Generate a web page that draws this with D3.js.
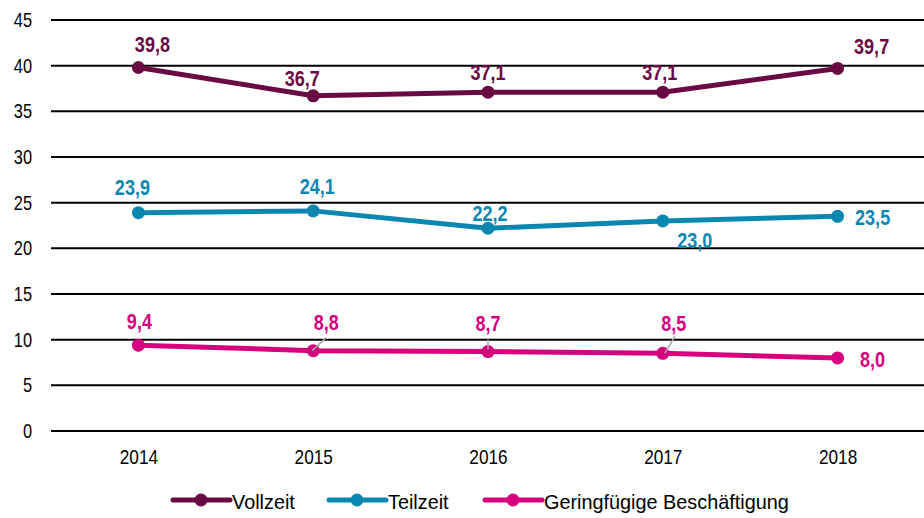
<!DOCTYPE html>
<html><head><meta charset="utf-8">
<script src="https://cdn.jsdelivr.net/npm/d3@7"></script>
<style>
html,body{margin:0;padding:0;background:#fff;}
svg{display:block;font-family:"Liberation Sans Narrow","Arial Narrow","Liberation Sans",Arial,sans-serif;}
</style></head>
<body><svg id="c" width="924" height="518"></svg>
<script>
const years = ["2014","2015","2016","2017","2018"];
const vollzeit = [39.8, 36.7, 37.1, 37.1, 39.7];
const teilzeit = [23.9, 24.1, 22.2, 23.0, 23.5];
const geringfuegig = [9.4, 8.8, 8.7, 8.5, 8.0];
const seriesNames = ["Vollzeit","Teilzeit","Geringfügige Beschäftigung"];
const yTicks = [0,5,10,15,20,25,30,35,40,45];

// label placement (dx, dy from point)
const labelOffsets = [
  [[14,-23],[-11,-17],[0,-20],[-3,-20],[34,-22]],
  [[-6,-25],[4,-25],[2,-15],[32,19],[35,1]],
  [[1,-24],[13,-28],[0,-28],[11,-30],[35,1]]
];
const leaders = [
  [null,null,null,null,null],
  [null,null,null,null,null],
  [null,[[-1,0],[13,-13]],[[0,-2],[0,-12]],[[2,0],[12,-17]],null]
];
const colors = ["#6a0a45","#0a87b0","#d6007e"];
const data = [vollzeit, teilzeit, geringfuegig];
const NARROW = 0.82;
const LEGEND_NARROW = 0.945;

const svg = d3.select("#c");
const x = d3.scalePoint().domain(years).range([51, 925]).padding(0.5);
const y = d3.scaleLinear().domain([0,45]).range([431, 20]);

// gridlines
svg.append("g").selectAll("line").data(yTicks).join("line")
  .attr("x1", 51).attr("x2", 924)
  .attr("y1", d => y(d)).attr("y2", d => y(d))
  .attr("stroke", "#000").attr("stroke-width", 2);

// y axis labels
const yAxis = d3.axisLeft(y).tickValues(yTicks).tickSize(0).tickPadding(0).tickFormat(d3.format("d"));
const gy = svg.append("g").attr("transform","translate(32,0)").call(yAxis);
gy.select(".domain").remove();
gy.selectAll("text").attr("font-size", 20).attr("fill","#000").attr("font-family","inherit")
  .attr("transform", `scale(${NARROW},1)`);

// x axis labels
const xAxis = d3.axisBottom(x).tickSize(0).tickPadding(0);
const gx = svg.append("g").attr("transform","translate(0,449)").call(xAxis);
gx.select(".domain").remove();
gx.selectAll("text").attr("font-size", 21).attr("fill","#000").attr("font-family","inherit")
  .attr("transform", `scale(${NARROW},1)`);

const line = d3.line().x((d,i) => x(years[i])).y(d => y(d));

data.forEach((vals, s) => {
  const g = svg.append("g");
  g.append("path").datum(vals).attr("d", line)
    .attr("fill","none").attr("stroke", colors[s]).attr("stroke-width", 5).attr("stroke-linejoin","round");
  g.selectAll("circle").data(vals).join("circle")
    .attr("cx", (d,i) => x(years[i])).attr("cy", d => y(d)).attr("r", 6.5)
    .attr("fill", colors[s]);
  vals.forEach((v,i) => {
    const L = leaders[s][i];
    if (L) {
      g.append("line")
        .attr("x1", x(years[i]) + L[0][0]).attr("y1", y(v) + L[0][1])
        .attr("x2", x(years[i]) + L[1][0]).attr("y2", y(v) + L[1][1])
        .attr("stroke","#a6a6a6").attr("stroke-width",1.5);
    }
  });
  g.selectAll("g.lbl").data(vals).join("g").attr("class","lbl")
    .attr("transform", (d,i) => `translate(${x(years[i]) + labelOffsets[s][i][0]},${y(d) + labelOffsets[s][i][1]})`)
    .append("text")
    .attr("transform", `scale(${NARROW},1)`)
    .attr("text-anchor","middle").attr("dominant-baseline","central")
    .attr("font-size", 22).attr("font-weight","bold").attr("fill", colors[s])
    .text(d => d3.format(".1f")(d).replace(".", ","));
});

// legend
const legendX = [173, 329, 485];
const legendY = 500;
seriesNames.forEach((n, s) => {
  const g = svg.append("g").attr("transform", `translate(${legendX[s]},${legendY})`);
  g.append("line").attr("x1",0).attr("x2",57).attr("y1",0).attr("y2",0)
    .attr("stroke", colors[s]).attr("stroke-width",5).attr("stroke-linecap","round");
  g.append("circle").attr("cx",28).attr("cy",0).attr("r",6.5).attr("fill",colors[s]);
  g.append("g").attr("transform","translate(59,2)")
    .append("text").attr("transform", `scale(${LEGEND_NARROW},1)`)
    .attr("dominant-baseline","central")
    .attr("font-size",21).attr("fill","#000").text(n);
});
</script></body></html>
